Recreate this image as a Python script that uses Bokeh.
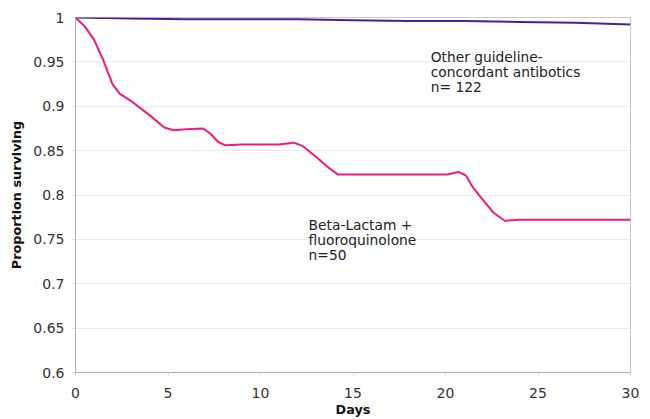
from bokeh.plotting import figure
from bokeh.models import Range1d, FixedTicker, Label
from bokeh.embed import file_html
from bokeh.resources import INLINE

# Other guideline-concordant antibiotics (n=122)
days_other = [0, 3, 6, 9, 12, 15, 18, 21, 24, 27, 30]
surv_other = [1.0, 0.999, 0.998, 0.998, 0.998, 0.997, 0.996, 0.996, 0.995, 0.994, 0.992]

# Beta-Lactam + fluoroquinolone (n=50)
days_bl = [0, 0.5, 1.0, 1.5, 2.0, 2.4, 3.0, 4.0, 4.8, 5.3, 6.0, 6.9, 7.3, 7.7, 8.1, 9.0, 10.0, 11.0, 11.8, 12.3,
           13.0, 13.6, 14.2, 15.0, 17.0, 19.0, 20.1, 20.7, 21.1, 21.5, 22.0, 22.6, 23.2, 24.0, 27.0, 30.0]
surv_bl = [1.0, 0.99, 0.975, 0.952, 0.925, 0.914, 0.906, 0.890, 0.876, 0.873, 0.874, 0.875, 0.869, 0.860, 0.856,
           0.857, 0.857, 0.857, 0.859, 0.855, 0.843, 0.832, 0.823, 0.823, 0.823, 0.823, 0.823, 0.826, 0.822, 0.808,
           0.795, 0.780, 0.771, 0.772, 0.772, 0.772]

x_ticks = [0, 5, 10, 15, 20, 25, 30]
y_ticks = [0.6, 0.65, 0.7, 0.75, 0.8, 0.85, 0.9, 0.95, 1.0]

p = figure(width=642, height=419, output_backend="svg", toolbar_location=None,
           x_range=Range1d(0, 30), y_range=Range1d(0.6, 1.0),
           min_border_left=75, min_border_right=12, min_border_top=17, min_border_bottom=43)

p.outline_line_color = "#c8c8c8"
p.outline_line_width = 1
p.background_fill_color = "white"
p.border_fill_color = "white"

p.xgrid.grid_line_color = None
p.ygrid.grid_line_color = "#ececec"
p.ygrid.grid_line_width = 1

p.xaxis.ticker = FixedTicker(ticks=x_ticks)
p.yaxis.ticker = FixedTicker(ticks=y_ticks)
p.yaxis.major_label_overrides = {0.6: "0.6", 0.65: "0.65", 0.7: "0.7", 0.75: "0.75", 0.8: "0.8",
                                 0.85: "0.85", 0.9: "0.9", 0.95: "0.95", 1.0: "1"}

for ax in (p.xaxis, p.yaxis):
    ax.axis_line_color = "#b0b0b0"
    ax.major_tick_line_color = "#d8d8d8"
    ax.major_tick_out = 3
    ax.major_tick_in = 0
    ax.minor_tick_line_color = None
    ax.major_label_text_font = "DejaVu Sans"
    ax.major_label_text_font_size = "14px"
    ax.major_label_text_color = "#333333"
    ax.axis_label_text_font = "DejaVu Sans"
    ax.axis_label_text_font_size = "12.8px"
    ax.axis_label_text_font_style = "bold"
    ax.axis_label_text_color = "#111111"

p.xaxis.axis_label = "Days"
p.yaxis.axis_label = "Proportion surviving"
p.xaxis.major_label_standoff = 12
p.xaxis.axis_label_standoff = 1
p.yaxis.major_label_standoff = 8
p.yaxis.axis_label_standoff = 6

p.line(days_other, surv_other, line_color="#4a1f9e", line_width=2)
p.line(days_bl, surv_bl, line_color="#f5197f", line_width=2)

for i, t in enumerate(["Other guideline-", "concordant antibotics", "n= 122"]):
    p.add_layout(Label(x=19.2, y=0.955 - i * 0.0167, text=t, text_font="DejaVu Sans",
                       text_font_size="13.8px", text_color="#222222", text_baseline="alphabetic"))

for i, t in enumerate(["Beta-Lactam +", "fluoroquinolone", "n=50"]):
    p.add_layout(Label(x=12.6, y=0.766 - i * 0.0167, text=t, text_font="DejaVu Sans",
                       text_font_size="13.8px", text_color="#222222", text_baseline="alphabetic"))

open("out.html", "w").write(file_html(p, INLINE))
